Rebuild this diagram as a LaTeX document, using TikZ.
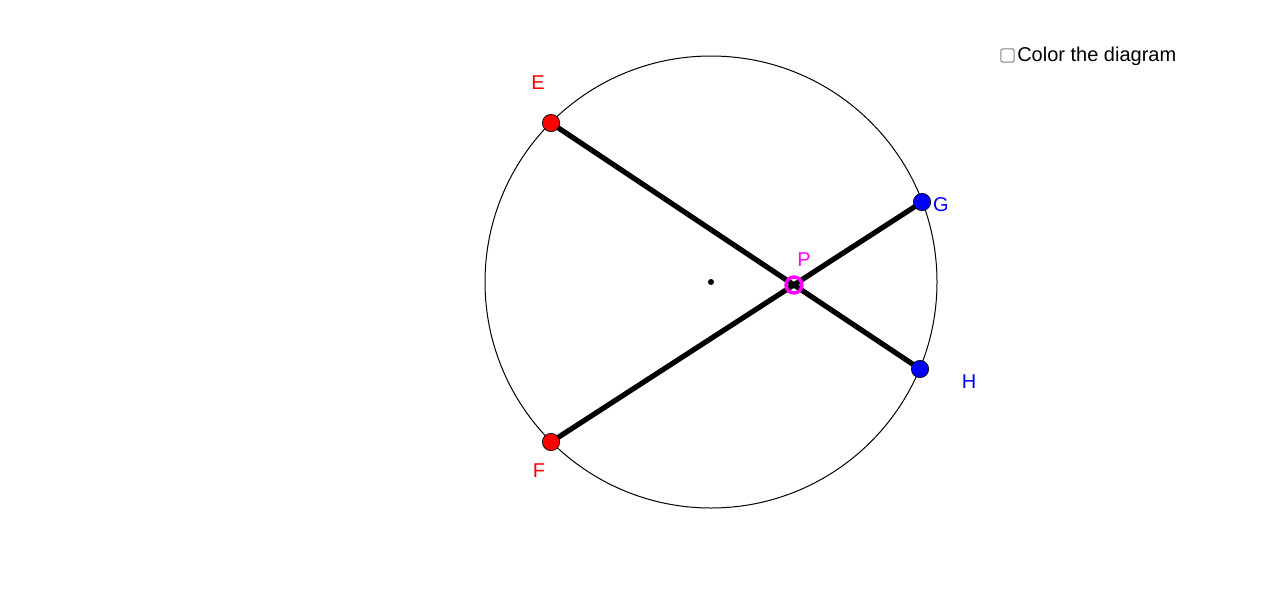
\documentclass[tikz,border=0pt]{standalone}
\usepackage{fontspec}
\setmainfont{Liberation Sans}
\definecolor{ptmagenta}{RGB}{255,0,255}
\begin{document}
\begin{tikzpicture}[x=0.75pt, y=-0.75pt,
  every node/.style = {inner sep=0pt},
  redpt/.style = {circle, draw=black, line width=0.5pt, fill=red, minimum size=13pt},
  bluept/.style = {circle, draw=black, line width=0.5pt, fill=blue, minimum size=13pt},
  ptlabel/.style = {font=\fontsize{15pt}{17pt}\selectfont},
  chord/.style = {line width=3.9pt}]
  \useasboundingbox (0,0) rectangle (1276,608);
  % circle and its centre
  \coordinate (o) at (711,282);
  \draw[line width=0.75pt] (o) circle [radius=169.5pt];
  \node[circle, fill=black, minimum size=4.5pt] (O) at (o) {};
  % end points of the chords
  \coordinate (e) at (551,123);
  \coordinate (f) at (551,442);
  \coordinate (g) at (922,202);
  \coordinate (h) at (920,369);
  \draw[chord] (e) -- (h);
  \draw[chord] (f) -- (g);
  \node[redpt] (E) at (e) {};
  \node[redpt] (F) at (f) {};
  \node[bluept] (G) at (g) {};
  \node[bluept] (H) at (h) {};
  \node[circle, draw=ptmagenta, line width=2.6pt, minimum size=12pt] (P) at (794,285) {};
  % labels
  \node[ptlabel, text=red] at (538,83) {E};
  \node[ptlabel, text=red] at (539,471) {F};
  \node[ptlabel, text=blue] at (941,205) {G};
  \node[ptlabel, text=blue] at (969,382) {H};
  \node[ptlabel, text=ptmagenta] at (804,260) {P};
  % checkbox
  \node[draw=gray, line width=0.8pt, rounded corners=1.5pt, minimum size=10pt] (box) at (1007.5,55.5) {};
  \node[anchor=west, font=\fontsize{15pt}{18pt}\selectfont] (txt) at (1017,56) {Color the diagram};
\end{tikzpicture}
\end{document}
